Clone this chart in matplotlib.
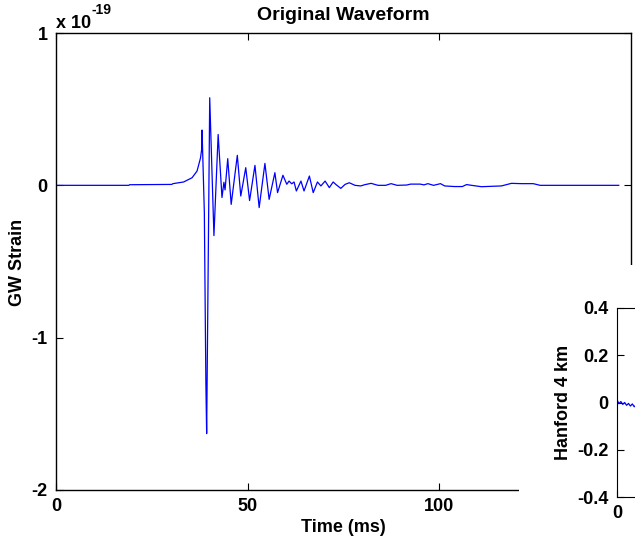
import matplotlib
matplotlib.use('Agg')
import matplotlib.pyplot as plt
from matplotlib.patches import Rectangle

plt.rcParams['font.family'] = ['Liberation Sans', 'DejaVu Sans']
plt.rcParams['font.weight'] = 'bold'
plt.rcParams['axes.unicode_minus'] = False

# waveform: time (ms), strain in units of 1e-19
time_ms = [0, 19.0, 19.2, 30.2, 30.5, 33.3, 35.5, 36.8, 37.7, 38.0, 38.1,
           38.7, 38.9, 39.1, 39.3, 40.1, 41.2, 42.3, 43.3, 43.8, 44.1, 44.8,
           45.7, 47.3, 48.2, 49.5, 50.5, 51.9, 53.0, 54.5, 55.6, 57.1, 57.8,
           59.2, 60.2, 60.8, 61.5, 62.1, 62.7, 63.9, 64.7, 66.1, 67.1, 68.2,
           69.1, 70.2, 71.3, 72.3, 73.0, 74.3, 75.4, 76.5, 78.0, 79.5, 80.5,
           82.2, 84.0, 86.0, 87.4, 89.0, 91.5, 92.5, 95.0, 96.0, 97.0, 98.5,
           100.3, 101.4, 104.0, 106.0, 107.1, 108.4, 111.0, 116.2, 118.8,
           121.5, 124.5, 126.3, 146.8]
strain = [0, 0, 0.004, 0.006, 0.011, 0.022, 0.05, 0.094, 0.18, 0.236, 0.363,
          -0.18, -0.75, -1.3, -1.63, 0.575, -0.33, 0.334, -0.08, 0.02, -0.03,
          0.175, -0.125, 0.197, -0.07, 0.116, -0.10, 0.131, -0.146, 0.144,
          -0.092, 0.083, -0.048, 0.066, 0.007, 0.028, 0.01, 0.022, -0.037,
          0.028, -0.037, 0.061, -0.048, 0.022, -0.004, 0.028, -0.015, 0.022,
          0.006, -0.02, 0.006, 0.017, 0.0, -0.004, 0.004, 0.013, 0.0, 0.0,
          0.011, 0.0, 0.002, 0.008, 0.008, 0.003, 0.011, 0.0, 0.011, -0.004,
          -0.008, -0.008, 0.005, 0.0, -0.009, -0.004, 0.013, 0.011, 0.011,
          0.0, 0.0]

# second panel (only its left edge is in view)
hanford_t = [0, 0.5, 1.0, 1.5, 2.0, 2.5, 3.0, 3.5, 4.0, 4.5, 5.0, 5.5]
hanford_v = [0.012, -0.005, 0.004, -0.008, 0.0, -0.012, -0.004, -0.015,
             -0.006, -0.018, -0.01, -0.02]

W, H = 635, 540
fig = plt.figure(figsize=(W / 100, H / 100), dpi=100)

ax = fig.add_axes([56 / W, 1 - 490 / H, 575 / W, 457 / H])
ax.plot(time_ms, strain, color='#0000ff', linewidth=0.9)
ax.set_xlim(0, 150)
ax.set_ylim(-2, 1)
ax.set_xticks([0, 50, 100])
ax.set_yticks([-2, -1, 0, 1])
ax.tick_params(direction='in', length=5, labelsize=13, top=True, right=True, pad=6)
for s in ax.spines.values():
    s.set_linewidth(1.0)
ax.set_title('Original Waveform', fontsize=14, fontweight='bold', pad=9)
ax.set_xlabel('Time (ms)', fontsize=13, fontweight='bold', labelpad=3)
fig.text(18 / W, 1 - 262 / H, 'GW Strain', rotation=90, ha='center', va='center',
         fontsize=13, fontweight='bold')
# exponent label
fig.text(56 / W, 1 - 28 / H, 'x 10', fontsize=13, fontweight='bold',
         ha='left', va='baseline')
fig.text(91 / W, 1 - 14 / H, '-19', fontsize=10, fontweight='bold',
         ha='left', va='baseline')

# white region of the neighbouring panel covering the lower right corner
cover = Rectangle((519 / W, 0), 1, (H - 265) / H, transform=fig.transFigure,
                  facecolor='white', edgecolor='none', zorder=1)
fig.add_artist(cover)

ax2 = fig.add_axes([617 / W, 1 - 497 / H, 575 / W, 189 / H])
ax2.set_zorder(2)
ax2.plot(hanford_t, hanford_v, color='#0000ff', linewidth=0.9)
ax2.set_xlim(0, 150)
ax2.set_ylim(-0.4, 0.4)
ax2.set_xticks([0])
ax2.set_yticks([-0.4, -0.2, 0, 0.2, 0.4])
ax2.set_yticklabels(['-0.4', '-0.2', '0', '0.2', '0.4'])
ax2.tick_params(direction='in', length=5, labelsize=13, pad=6)
ax2.set_ylabel('Hanford 4 km', fontsize=13, fontweight='bold', labelpad=4)

fig.savefig('out.png', dpi=100)
